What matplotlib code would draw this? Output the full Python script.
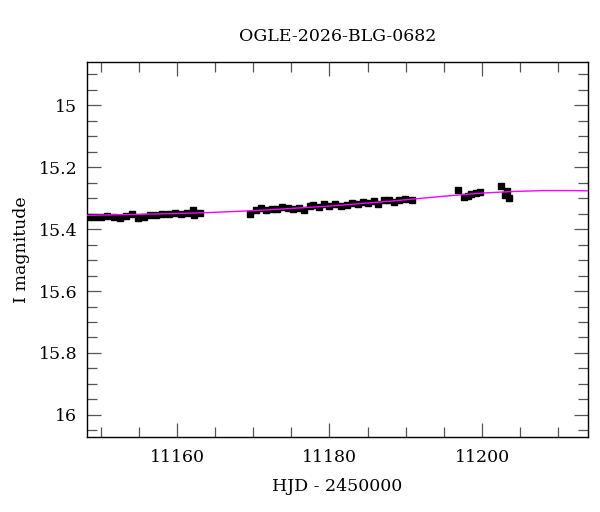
import matplotlib
matplotlib.use("Agg")
import matplotlib.pyplot as plt
from matplotlib.ticker import MultipleLocator

title = "OGLE-2026-BLG-0682"
xlabel = "HJD - 2450000"
ylabel = "I magnitude"

# observations
hjd = [11148.4, 11149.2, 11150.0, 11150.8, 11151.7, 11152.5, 11153.3, 11154.1,
       11154.9, 11155.7, 11156.5, 11157.3, 11158.1, 11158.9, 11159.7, 11160.5,
       11161.3, 11162.1, 11162.2, 11163.0,
       11169.6, 11170.3, 11171.0, 11171.7, 11172.4, 11173.1, 11173.8, 11174.5,
       11175.2, 11176.0, 11176.7, 11177.4, 11177.9, 11178.6, 11179.3, 11180.0,
       11180.7, 11181.5, 11182.3, 11183.0, 11183.7, 11184.4, 11185.1, 11185.8,
       11186.4, 11187.1, 11187.8, 11188.4, 11189.1, 11189.9, 11190.8,
       11196.9, 11197.6, 11198.1, 11198.5, 11199.2, 11199.8,
       11202.5, 11203.0, 11203.3, 11203.6]
mag = [15.362, 15.360, 15.361, 15.358, 15.360, 15.363, 15.359, 15.351,
       15.363, 15.360, 15.356, 15.354, 15.350, 15.352, 15.348, 15.350,
       15.349, 15.340, 15.356, 15.348,
       15.352, 15.338, 15.332, 15.340, 15.334, 15.336, 15.330, 15.333,
       15.335, 15.331, 15.338, 15.327, 15.322, 15.330, 15.318, 15.326,
       15.320, 15.325, 15.322, 15.316, 15.318, 15.313, 15.315, 15.310,
       15.318, 15.308, 15.305, 15.312, 15.306, 15.303, 15.308,
       15.274, 15.296, 15.292, 15.288, 15.284, 15.282,
       15.262, 15.290, 15.276, 15.300]
err = [0.006] * len(hjd)
err[18] = 0.009
err[20] = 0.012
err[32] = 0.010
err[57] = 0.008
err[60] = 0.009

# model curve
model_t = [11148, 11152, 11156, 11160, 11164, 11168, 11172, 11176, 11180,
           11184, 11188, 11192, 11196, 11200, 11204, 11208, 11212, 11214]
model_m = [15.356, 15.354, 15.352, 15.350, 15.347, 15.343, 15.338, 15.332,
           15.326, 15.318, 15.310, 15.301, 15.292, 15.284, 15.279, 15.276,
           15.276, 15.277]

plt.rcParams['font.family'] = ['DejaVu Serif']
fig = plt.figure(figsize=(6.0, 5.12), dpi=100)
ax = fig.add_axes([0.145, 0.1465, 0.835, 0.7325])

ax.plot(model_t, model_m, color='#ff00ff', lw=1.0, zorder=3)
ax.errorbar(hjd, mag, yerr=err, fmt='s', color='black', ms=3.8,
            elinewidth=1.2, capsize=0, zorder=2)

ax.set_xlim(11148.2, 11213.9)
ax.set_ylim(16.071, 14.861)
ax.xaxis.set_major_locator(MultipleLocator(20))
ax.xaxis.set_minor_locator(MultipleLocator(5))
ax.yaxis.set_major_locator(MultipleLocator(0.2))
ax.yaxis.set_minor_locator(MultipleLocator(0.05))
ax.yaxis.set_major_formatter(plt.FuncFormatter(lambda v, p: ('%g' % round(v, 2))))

ax.tick_params(which='both', direction='in', top=True, right=True,
               labelsize=12.5, color='#555555')
ax.tick_params(which='major', length=10, width=0.9, pad=9)
ax.tick_params(axis='y', which='major', pad=7)
ax.tick_params(which='minor', length=7, width=0.9)
for s in ax.spines.values():
    s.set_linewidth(1.0)

ax.set_xlabel(xlabel, fontsize=12.5, labelpad=8)
ax.set_ylabel(ylabel, fontsize=12.5, labelpad=6)
ax.set_title(title, fontsize=12.5, pad=15)

fig.savefig("out.png", dpi=100)
